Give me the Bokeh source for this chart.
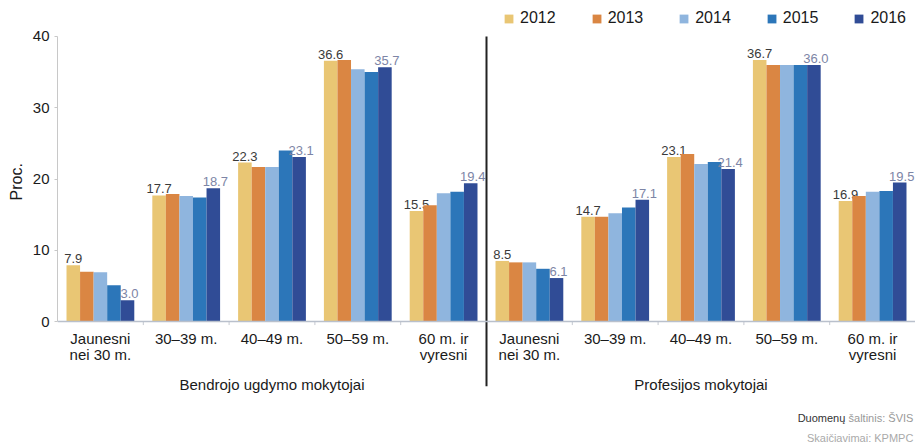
import numpy as np
from bokeh.plotting import figure
from bokeh.models import (ColumnDataSource, Range1d, FixedTicker, Legend, LegendItem, Span, Title)
from bokeh.core.properties import value
from bokeh.embed import file_html
from bokeh.resources import INLINE

FONT = "Liberation Sans"

# ---- data ----
panels = ["Bendrojo ugdymo mokytojai", "Profesijos mokytojai"]
age_groups = ["Jaunesni\nnei 30 m.", "30\u201339 m.", "40\u201349 m.", "50\u201359 m.", "60 m. ir\nvyresni"]
years = ["2012", "2013", "2014", "2015", "2016"]
colors = ["#E9C674", "#DA8643", "#8FB5DE", "#2C76B9", "#304C96"]

# Bendrojo ugdymo mokytojai, by age group
bendr_2012 = [7.9, 17.7, 22.3, 36.6, 15.5]
bendr_2013 = [7.0, 17.9, 21.7, 36.7, 16.3]
bendr_2014 = [6.9, 17.6, 21.7, 35.4, 18.0]
bendr_2015 = [5.1, 17.4, 24.0, 35.0, 18.2]
bendr_2016 = [3.0, 18.7, 23.1, 35.7, 19.4]

# Profesijos mokytojai, by age group
prof_2012 = [8.5, 14.7, 23.1, 36.7, 16.9]
prof_2013 = [8.3, 14.7, 23.5, 36.0, 17.6]
prof_2014 = [8.3, 15.2, 22.1, 36.0, 18.2]
prof_2015 = [7.4, 16.0, 22.4, 36.0, 18.3]
prof_2016 = [6.1, 17.1, 21.4, 36.0, 19.5]

series = [bendr_2012 + prof_2012, bendr_2013 + prof_2013, bendr_2014 + prof_2014,
          bendr_2015 + prof_2015, bendr_2016 + prof_2016]

source_line1 = ["Duomenų", "šaltinis: ŠVIS"]
source_line2 = "Skaičiavimai: KPMPC"

# ---- figure ----
W, H = 915, 448
p = figure(width=W, height=H, output_backend="svg", toolbar_location=None,
           x_range=Range1d(0, 10), y_range=Range1d(-17.82, 45.05),
           x_axis_location=None, min_border_left=53, min_border_right=0,
           min_border_top=0, min_border_bottom=0, background_fill_color="white",
           border_fill_color="white", outline_line_color=None)
p.xgrid.visible = False
p.ygrid.visible = False

ncat = len(age_groups) * len(panels)
centers = np.arange(ncat) + 0.5
bw = 0.158

renderers = []
for k, (yr, vals, col) in enumerate(zip(years, series, colors)):
    src = ColumnDataSource(dict(x=centers + (k - 2) * bw, top=vals,
                                lab=[f"{v:.1f}" for v in vals]))
    r = p.vbar(x="x", top="top", bottom=0, width=bw, source=src,
               fill_color=col, line_color=None)
    renderers.append(r)
    if k in (0, 4):
        p.text(x="x", y="top", text="lab", source=src, text_align="center",
               text_baseline="bottom", y_offset=-2, x_offset=0 if k == 0 else 2,
               text_font=value(FONT), text_font_size="13px",
               text_color="#3a3a3a" if k == 0 else "#7d85a6")

# baseline and small ticks between groups
p.add_layout(Span(location=0, dimension="width", line_color="#b9c0cc", line_width=1.5))
bounds = [b for b in np.arange(1, ncat) if b != len(age_groups)]
p.segment(x0=bounds, x1=bounds, y0=[0] * len(bounds), y1=[-0.5] * len(bounds),
          line_color="#c4c8d0", line_width=1)

# divider between the two panels
p.segment(x0=[len(age_groups)], x1=[len(age_groups)], y0=[-9.1], y1=[40],
          line_color="#222222", line_width=2)

# category labels
p.text(x=centers, y=[-1.2] * ncat, text=age_groups * 2, text_align="center",
       text_baseline="top", text_line_height=0.95, text_font=value(FONT),
       text_font_size="15px", text_color="#1a1a1a")

# panel titles
p.text(x=[2.5, 7.5], y=[-8.84, -8.84], text=panels, text_align="center",
       text_baseline="middle", text_font=value(FONT), text_font_size="15px",
       text_color="#1a1a1a")

# source notes (right-aligned inside the picture)
p.text(x=[9.975], y=[-13.6], text=[source_line1[1]], text_align="right", text_baseline="middle",
       text_font=value(FONT), text_font_size="11px", text_color="#999999")
p.text(x=[9.975], y=[-13.6], text=[source_line1[0]], text_align="right", text_baseline="middle",
       x_offset=-68, text_font=value(FONT), text_font_size="11px", text_color="#333333")
p.text(x=[9.975], y=[-16.4], text=[source_line2], text_align="right", text_baseline="middle",
       text_font=value(FONT), text_font_size="11px", text_color="#aaaaaa")

# y axis
ax = p.yaxis[0]
ax.bounds = (0, 40)
ax.ticker = FixedTicker(ticks=[0, 10, 20, 30, 40])
ax.minor_tick_line_color = None
ax.major_tick_in = 0
ax.major_tick_out = 3
ax.major_tick_line_color = "#c8c8c8"
ax.axis_line_color = "#c8c8c8"
ax.major_label_standoff = 5
ax.major_label_text_font = FONT
ax.major_label_text_font_size = "15px"
ax.major_label_text_color = "#1a1a1a"

# y axis title, placed beside the 0-40 span
p.add_layout(Title(text="Proc.", align="left", offset=248, text_font=FONT,
                   text_font_size="16px", text_font_style="normal", text_color="#1a1a1a"),
             "left")

# legend
legend = Legend(items=[LegendItem(label=y, renderers=[r]) for y, r in zip(years, renderers)],
                orientation="horizontal", location="top_right", glyph_width=11, glyph_height=11,
                label_standoff=6, spacing=35, padding=0, margin=9, border_line_color=None,
                background_fill_alpha=0, label_text_font=FONT, label_text_font_size="16px",
                label_text_color="#1a1a1a", label_height=18)
p.add_layout(legend, "center")

open("out.html", "w").write(file_html(p, INLINE))
